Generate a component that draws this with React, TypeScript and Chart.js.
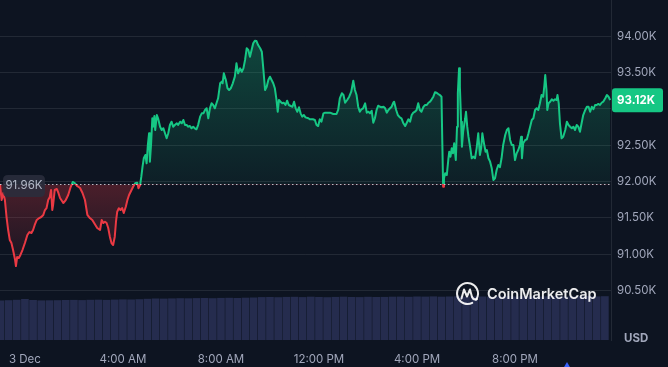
import React, { useEffect, useRef } from 'react';
import { Chart, registerables } from 'chart.js';

Chart.register(...registerables);

// ---- data (minutes relative to 3 Dec 00:00, price in USD) ----
const priceTimes = [
  -61, -57, -53, -49, -45, -41, -37, -33, -29, -24, -22, -19, -15, -11, -6, 0, 6, 11, 16, 20, 24, 29, 35, 40, 45, 49, 53, 57, 61, 64, 67, 69, 73, 78, 82, 86, 94, 100, 106, 112, 117, 122, 128, 135, 141, 147, 153, 159, 165, 171, 177,
  184, 188, 192, 196, 200, 204, 208, 212, 216, 220, 223, 226, 230, 234, 238, 242, 247, 251, 255, 261, 265, 270, 275, 278, 282, 285, 288, 291, 295, 298, 301, 304, 306, 309, 312, 314, 317, 319, 323, 326, 331, 335, 339, 343, 347, 351, 355, 359, 363, 367, 372, 375, 380, 384, 388, 392, 396, 400, 404, 408, 412, 416, 420, 424, 429, 433, 437, 441, 445, 449, 453,
  457, 461, 465, 469, 473, 478, 482, 484, 487, 492, 496, 500, 504, 509, 514, 518, 522, 527, 531, 535, 539, 543, 547, 551, 555, 559, 563, 567, 571, 576, 580, 584, 588, 592, 596, 600, 604, 608, 612, 616, 619, 622, 626, 630, 634, 638, 642, 646, 651, 655, 659, 663, 667, 671, 675, 679, 683, 687, 694,
  698, 705, 710, 714, 718, 722, 726, 731, 735, 747, 755, 763, 767, 771, 776, 780, 784, 789, 794, 799, 804, 808, 812, 816, 820, 824, 828, 833, 837, 841, 845, 849, 853, 857, 861, 865, 869, 874, 878, 882, 886, 890, 894, 898, 902, 904, 909, 913, 918, 922, 926, 931, 935, 939, 943, 947, 951, 955,
  959, 963, 967, 971, 976, 980, 984, 988, 992, 996, 1000, 1004, 1008, 1012, 1016, 1020, 1022, 1024, 1026, 1029, 1033, 1037, 1039, 1042, 1045, 1048, 1051, 1055, 1058, 1060, 1063, 1065, 1068, 1070, 1073, 1078, 1080, 1083, 1086, 1090, 1094, 1098, 1102, 1106, 1110, 1114, 1117, 1120, 1124, 1128, 1131, 1135, 1139, 1143, 1147, 1151, 1155, 1159, 1163, 1167, 1171, 1176, 1180, 1184, 1188, 1192, 1196, 1200,
  1204, 1208, 1212, 1215, 1217, 1220, 1225, 1229, 1233, 1237, 1241, 1245, 1249, 1253, 1257, 1261, 1265, 1269, 1272, 1274, 1277, 1279, 1282, 1286, 1290, 1294, 1298, 1302, 1304, 1307, 1310, 1314, 1318, 1323, 1327, 1331, 1335, 1339, 1343, 1347, 1351, 1355, 1359, 1363, 1367, 1372, 1376, 1380, 1384, 1388, 1392, 1396, 1400, 1404, 1408, 1412, 1416, 1421, 1425, 1429, 1433,
];

const prices = [
  91960, 91745, 91842, 91745, 91511, 91332, 91194, 91153, 91056, 90919, 90836, 90960, 90946, 90988, 91056, 91153, 91263, 91304, 91291, 91332, 91401, 91470, 91497, 91511, 91539, 91607, 91635, 91745, 91787, 91883, 91607, 91676, 91883, 91897, 91842, 91773, 91704, 91745, 91814, 91924, 91993, 91979, 91938, 91910, 91842, 91745, 91539, 91497, 91470, 91415, 91360,
  91332, 91470, 91428, 91446, 91428, 91360, 91240, 91153, 91125, 91240, 91446, 91584, 91631, 91607, 91635, 91566, 91653, 91745, 91814, 91883, 91928, 91975, 91984, 91906, 91952, 92066, 92204, 92320, 92365, 92251, 92503, 92664, 92273, 92526, 92871, 92755, 92902, 92709, 92916, 92871, 92755, 92709, 92733, 92664, 92595, 92664, 92778, 92824, 92755, 92778, 92802, 92778, 92824, 92802, 92847, 92778, 92778, 92755, 92764, 92733, 92755, 92733, 92719, 92778, 92893, 92939, 92939, 92985, 93008, 92871, 93008,
  93077, 93054, 93008, 93077, 93146, 93353, 93375, 93353, 93490, 93398, 93284, 93260, 93284, 93353, 93444, 93628, 93490, 93559, 93512, 93559, 93674, 93835, 93811, 93719, 93811, 93904, 93939, 93935, 93880, 93835, 93788, 93536, 93260, 93306, 93398, 93444, 93398, 93353, 93284, 93123, 92961, 93123, 93099, 93077, 93085, 93054, 93113, 93054, 93040, 93030, 93099, 93008, 92961, 93022, 92939, 92893, 92916, 92884, 92871,
  92857, 92857, 92847, 92778, 92764, 92857, 92824, 92939, 92948, 92948, 92930, 92930, 92985, 93146, 93215, 93191, 93085, 93123, 93168, 93237, 93388, 93260, 93191, 93030, 92961, 92995, 93008, 93077, 92948, 92961, 92939, 92975, 92810, 92871, 92985, 93044, 93030, 93022, 93030, 93008, 92948, 92985, 93008, 93030, 93085, 93099, 92985, 92916, 92884, 92871, 92810, 92764, 92810, 92857, 92824, 92916, 92948, 92961,
  92985, 93077, 92985, 92961, 93030, 93054, 93054, 93085, 93099, 93132, 93168, 93229, 93223, 93205, 93191, 93168, 92526, 91928, 92044, 92113, 92090, 92320, 92410, 92342, 92457, 92388, 92526, 92296, 92755, 93215, 93559, 93306, 92824, 92479, 92686, 92871, 92961, 92755, 92617, 92479, 92320, 92342, 92320, 92457, 92664, 92365, 92457, 92664, 92526, 92410, 92434, 92320, 92273, 92182, 92021, 92044, 92158, 92227, 92196, 92320, 92503, 92641, 92709, 92733, 92572, 92503, 92503, 92296,
  92388, 92434, 92503, 92617, 92320, 92526, 92572, 92581, 92664, 92755, 92847, 92871, 92985, 93008, 92985, 93077, 93191, 93168, 93329, 93467, 93260, 92985, 93077, 93099, 93132, 93113, 93132, 93123, 93191, 93077, 92802, 92595, 92617, 92709, 92824, 92778, 92755, 92733, 92755, 92709, 92778, 92755, 92686, 92802, 92916, 92985, 93030, 93030, 92961, 93030, 92995, 93054, 93054, 93068, 93054, 93085, 93099, 93146, 93191, 93168, 93120,
];

// volume bars, one every 20 minutes starting at 2 Dec 23:00 (relative units)
const volumeStartMinute = -60;
const volumeStepMinutes = 20;
const volumes = [
  39.5, 39.8, 40.2, 41.0, 40.0, 39.6, 39.7, 39.8, 40.0, 40.1, 39.9, 40.2, 40.3, 40.1, 40.4, 40.6, 40.5, 40.8, 41.2, 41.5,
  41.4, 41.6, 41.8, 41.7, 41.9, 42.0, 41.8, 42.1, 42.2, 42.0, 42.3, 42.5, 42.9, 43.0, 42.8, 43.1, 43.2, 42.9, 43.3, 43.0,
  42.8, 43.1, 43.3, 43.0, 42.9, 43.2, 43.0, 43.1, 43.3, 43.4, 43.2, 43.5, 43.4, 43.6, 43.3, 43.5, 43.7, 43.4, 43.6, 43.5,
  43.3, 43.6, 43.8, 43.5, 43.7, 43.6, 43.4, 43.7, 43.8, 43.6, 43.5, 43.7, 43.9, 43.6, 43.8,
];

const xTickMinutes = [0, 240, 480, 720, 960, 1200];
const xTickLabels = ['3 Dec', '4:00 AM', '8:00 AM', '12:00 PM', '4:00 PM', '8:00 PM'];
const yTickValues = [90500, 91000, 91500, 92000, 92500, 93000, 93500, 94000];

const baselinePrice = 91960;
const baselineLabel = '91.96K';
const currentPrice = 93120;
const currentLabel = '93.12K';
const currencyLabel = 'USD';
const watermarkText = 'CoinMarketCap';

// ---- styles ----
const X_MIN = -61;
const X_MAX = 1435;
const Y_MIN = 89817;
const Y_MAX = 94500;
const VOL_MAX = 340;
const BG = '#0d1421';
const GREEN = '#16c784';
const RED = '#ea3943';
const GRID = 'rgba(255,255,255,0.09)';
const LABEL = '#a1a7bb';
const VOL_COLOR = '#252c4e';
const FONT = 'Inter, "Noto Sans", sans-serif';

function splitGradient(chart: any, kind: 'line' | 'fill') {
  const { ctx, chartArea, scales } = chart;
  if (!chartArea || !scales || !scales.y) return kind === 'line' ? GREEN : 'rgba(22,199,132,0.15)';
  const yb = scales.y.getPixelForValue(baselinePrice);
  const f = Math.min(1, Math.max(0, (yb - chartArea.top) / (chartArea.bottom - chartArea.top)));
  const g = ctx.createLinearGradient(0, chartArea.top, 0, chartArea.bottom);
  if (kind === 'line') {
    g.addColorStop(0, GREEN);
    g.addColorStop(f, GREEN);
    g.addColorStop(f, RED);
    g.addColorStop(1, RED);
  } else {
    g.addColorStop(0, 'rgba(22,199,132,0.34)');
    g.addColorStop(f, 'rgba(22,199,132,0.06)');
    g.addColorStop(f, 'rgba(234,57,67,0.28)');
    g.addColorStop(Math.min(1, f + 0.25), 'rgba(234,57,67,0.04)');
    g.addColorStop(1, 'rgba(234,57,67,0)');
  }
  return g;
}

function roundRect(ctx: CanvasRenderingContext2D, x: number, y: number, w: number, h: number, r: number) {
  ctx.beginPath();
  ctx.moveTo(x + r, y);
  ctx.lineTo(x + w - r, y);
  ctx.quadraticCurveTo(x + w, y, x + w, y + r);
  ctx.lineTo(x + w, y + h - r);
  ctx.quadraticCurveTo(x + w, y + h, x + w - r, y + h);
  ctx.lineTo(x + r, y + h);
  ctx.quadraticCurveTo(x, y + h, x, y + h - r);
  ctx.lineTo(x, y + r);
  ctx.quadraticCurveTo(x, y, x + r, y);
  ctx.closePath();
}

const overlayPlugin = {
  id: 'overlay',
  beforeDraw(chart: any) {
    const { ctx, width, height } = chart;
    ctx.save();
    ctx.fillStyle = BG;
    ctx.fillRect(0, 0, width, height);
    ctx.restore();
  },
  afterDatasetsDraw(chart: any) {
    const { ctx, chartArea, scales } = chart;
    const yb = Math.round(scales.y.getPixelForValue(baselinePrice)) + 0.5;
    ctx.save();
    ctx.strokeStyle = 'rgba(225,228,238,0.8)';
    ctx.lineWidth = 1;
    ctx.setLineDash([1.5, 2.5]);
    ctx.beginPath();
    ctx.moveTo(chartArea.left, yb);
    ctx.lineTo(chartArea.right, yb);
    ctx.stroke();
    ctx.restore();
  },
  afterDraw(chart: any) {
    const { ctx, chartArea, scales } = chart;
    const yb = scales.y.getPixelForValue(baselinePrice);
    const yc = scales.y.getPixelForValue(currentPrice);
    ctx.save();

    // baseline label
    ctx.fillStyle = 'rgba(42,46,60,0.88)';
    roundRect(ctx, 3, yb - 9.5, 42, 22, 5);
    ctx.fill();
    ctx.fillStyle = '#b4b9c8';
    ctx.font = `11.5px ${FONT}`;
    ctx.textAlign = 'center';
    ctx.textBaseline = 'middle';
    ctx.fillText(baselineLabel, 24, yb + 1.5);

    // current price label
    ctx.fillStyle = GREEN;
    roundRect(ctx, chartArea.right + 1, yc - 12, 51, 24, 3);
    ctx.fill();
    ctx.fillStyle = '#ffffff';
    ctx.font = `bold 11.5px ${FONT}`;
    ctx.textAlign = 'left';
    ctx.fillText(currentLabel, chartArea.right + 6, yc + 0.5);

    // currency label
    ctx.fillStyle = LABEL;
    ctx.font = `bold 11.5px ${FONT}`;
    ctx.fillText(currencyLabel, 624, 338.5);

    // watermark
    const cx = 467.5;
    const cy = 293.5;
    ctx.strokeStyle = 'rgba(255,255,255,0.92)';
    ctx.lineWidth = 2;
    ctx.lineJoin = 'round';
    ctx.lineCap = 'round';
    ctx.beginPath();
    ctx.arc(cx, cy, 10.5, Math.PI * 0.35, Math.PI * 2.2);
    ctx.stroke();
    ctx.beginPath();
    ctx.moveTo(cx - 6, cy + 5);
    ctx.lineTo(cx - 3.5, cy - 4);
    ctx.lineTo(cx - 0.5, cy + 3);
    ctx.lineTo(cx + 2.5, cy - 4);
    ctx.lineTo(cx + 4.5, cy + 3.5);
    ctx.quadraticCurveTo(cx + 6, cy + 7, cx + 9.5, cy + 5.5);
    ctx.stroke();
    ctx.fillStyle = 'rgba(255,255,255,0.92)';
    ctx.font = `600 14.5px ${FONT}`;
    ctx.textAlign = 'left';
    ctx.textBaseline = 'middle';
    ctx.fillText(watermarkText, 487, 294.5);

    // small marker under the axis
    ctx.fillStyle = '#3861fb';
    ctx.beginPath();
    ctx.moveTo(567, 362);
    ctx.lineTo(563.5, 368);
    ctx.lineTo(570.5, 368);
    ctx.closePath();
    ctx.fill();

    ctx.restore();
  },
};

export default function App() {
  const ref = useRef<HTMLCanvasElement>(null);

  useEffect(() => {
    document.body.style.margin = '0';
    document.body.style.background = BG;
    Chart.defaults.font.family = FONT;

    const lineData = priceTimes.map((t, i) => ({ x: t, y: prices[i] }));
    const volData = volumes.map((v, i) => ({ x: volumeStartMinute + i * volumeStepMinutes, y: v }));

    const chart = new Chart(ref.current as HTMLCanvasElement, {
      type: 'line',
      data: {
        datasets: [
          {
            type: 'line',
            data: lineData,
            yAxisID: 'y',
            borderWidth: 2,
            tension: 0,
            pointRadius: 0,
            borderJoinStyle: 'round',
            borderColor: (c: any) => splitGradient(c.chart, 'line'),
            backgroundColor: (c: any) => splitGradient(c.chart, 'fill'),
            fill: { target: { value: baselinePrice } },
            order: 1,
          } as any,
          {
            type: 'bar',
            data: volData,
            yAxisID: 'yv',
            backgroundColor: VOL_COLOR,
            barPercentage: 0.94,
            categoryPercentage: 1,
            borderWidth: 0,
            order: 2,
          } as any,
        ],
      },
      options: {
        responsive: false,
        animation: false,
        devicePixelRatio: 1,
        layout: { padding: 0 },
        plugins: {
          legend: { display: false },
          tooltip: { enabled: false },
        },
        events: [],
        scales: {
          x: {
            type: 'linear',
            min: X_MIN,
            max: X_MAX,
            offset: false,
            grid: { display: false, offset: false },
            border: { display: false },
            afterBuildTicks: (scale: any) => {
              scale.ticks = xTickMinutes.map((v) => ({ value: v }));
            },
            afterFit: (scale: any) => {
              scale.height = 27;
              scale.paddingLeft = 0;
              scale.paddingRight = 0;
            },
            ticks: {
              autoSkip: false,
              maxRotation: 0,
              padding: 5,
              color: LABEL,
              font: { size: 11.5, family: FONT },
              callback: (v: any) => {
                const i = xTickMinutes.indexOf(Number(v));
                return i >= 0 ? xTickLabels[i] : '';
              },
            },
          },
          y: {
            type: 'linear',
            position: 'right',
            min: Y_MIN,
            max: Y_MAX,
            grid: { color: GRID, drawTicks: false, lineWidth: 1 },
            border: { display: true, color: GRID },
            afterBuildTicks: (scale: any) => {
              scale.ticks = yTickValues.map((v) => ({ value: v }));
            },
            afterFit: (scale: any) => {
              scale.width = 57;
              scale.paddingTop = 0;
              scale.paddingBottom = 0;
            },
            ticks: {
              padding: 6,
              color: LABEL,
              font: { size: 11.5, family: FONT },
              callback: (v: any) =>
                Math.abs(Number(v) - currentPrice) < 250 ? '' : (Number(v) / 1000).toFixed(2) + 'K',
            },
          },
          yv: {
            type: 'linear',
            display: false,
            min: 0,
            max: VOL_MAX,
          },
        },
      } as any,
      plugins: [overlayPlugin],
    });

    return () => chart.destroy();
  }, []);

  return (
    <canvas
      ref={ref}
      width={668}
      height={367}
      style={{ display: 'block', width: 668, height: 367 }}
    />
  );
}
